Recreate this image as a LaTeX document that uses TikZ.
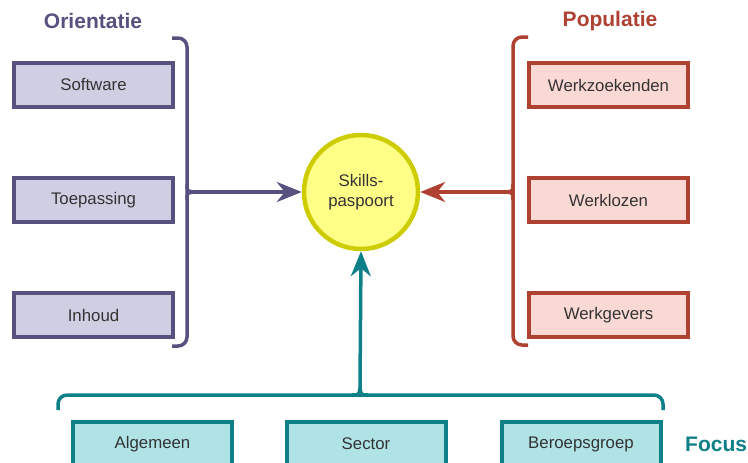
\documentclass[tikz,border=0pt]{standalone}
\usepackage{fontspec}
\setmainfont{Liberation Sans}
\usetikzlibrary{arrows.meta}

\definecolor{purpleline}{HTML}{56517E}
\definecolor{purplefill}{HTML}{D0CEE2}
\definecolor{redline}{HTML}{AE4132}
\definecolor{redfill}{HTML}{FAD9D5}
\definecolor{tealline}{HTML}{0E8088}
\definecolor{tealfill}{HTML}{B0E3E6}
\definecolor{sunfill}{HTML}{FFFF88}
\definecolor{sunline}{HTML}{CCCC00}
\definecolor{labeltext}{HTML}{333333}

\tikzset{
  itembox/.style={draw, line width=4pt, minimum width=159pt, minimum height=44pt,
    inner sep=0pt, text=labeltext, font=\fontsize{16.8}{19}\selectfont},
  purplebox/.style={itembox, draw=purpleline, fill=purplefill},
  redbox/.style={itembox, draw=redline, fill=redfill},
  tealbox/.style={itembox, draw=tealline, fill=tealfill},
  grouptitle/.style={inner sep=0pt, font=\fontsize{21}{24}\selectfont\bfseries},
  bracketline/.style={line width=3.5pt, rounded corners=9pt, line cap=butt},
  cuspline/.style={line width=3.5pt},
  flow/.style={line width=3.5pt, -{Stealth[length=25pt, width=20pt, inset=8pt]}},
}

\begin{document}
\begin{tikzpicture}[x=1pt, y=-1pt]
  \useasboundingbox (0,0) rectangle (748,463);

  % central node
  \node[circle, draw=sunline, fill=sunfill, line width=4.5pt, minimum size=114pt,
        inner sep=0pt, text=labeltext, align=center,
        font=\fontsize{16.8}{20}\selectfont] (hub) at (361,192) {Skills-\\paspoort};

  % group titles
  \node[grouptitle, text=purpleline] (torient) at (93,21) {Orientatie};
  \node[grouptitle, text=redline] (tpop) at (610,21) {Populatie};
  \node[grouptitle, text=tealline, anchor=west] (tfocus) at (685,444) {Focus};

  % orientation items
  \node[purplebox] (soft) at (93.5,85) {Software};
  \node[purplebox] (toep) at (93.5,200) {Toepassing};
  \node[purplebox] (inh)  at (93.5,315) {Inhoud};

  % population items
  \node[redbox] (wzk) at (608.5,85) {Werkzoekenden};
  \node[redbox] (wkl) at (608.5,200) {Werklozen};
  \node[redbox] (wgv) at (608.5,315) {Werkgevers};

  % focus items
  \node[tealbox] (alg) at (152.5,444) {Algemeen};
  \node[tealbox] (sec) at (366,444) {Sector};
  \node[tealbox] (ber) at (581,444) {Beroepsgroep};

  % bracket tips
  \coordinate (lcusp) at (193,192);
  \coordinate (rcusp) at (507,192);
  \coordinate (bcusp) at (360,388);

  % left bracket
  \draw[purpleline, bracketline] (172,38) -- (187,38) -- (187,346) -- (172,346);
  \draw[purpleline, cuspline] (187,184) .. controls (187,191) .. (lcusp)
                              (187,200) .. controls (187,193) .. (lcusp);
  \draw[purpleline, flow] (lcusp) -- (hub.west);

  % right bracket
  \draw[redline, bracketline] (528,37) -- (513,37) -- (513,345) -- (528,345);
  \draw[redline, cuspline] (513,184) .. controls (513,191) .. (rcusp)
                           (513,200) .. controls (513,193) .. (rcusp);
  \draw[redline, flow] (rcusp) -- (hub.east);

  % bottom bracket
  \draw[tealline, bracketline] (58,410) -- (58,395) -- (663,395) -- (663,410);
  \draw[tealline, cuspline] (352,395) .. controls (359,395) .. (bcusp)
                            (368,395) .. controls (361,395) .. (bcusp);
  \draw[tealline, flow] (bcusp) -- (hub.south);
\end{tikzpicture}
\end{document}
